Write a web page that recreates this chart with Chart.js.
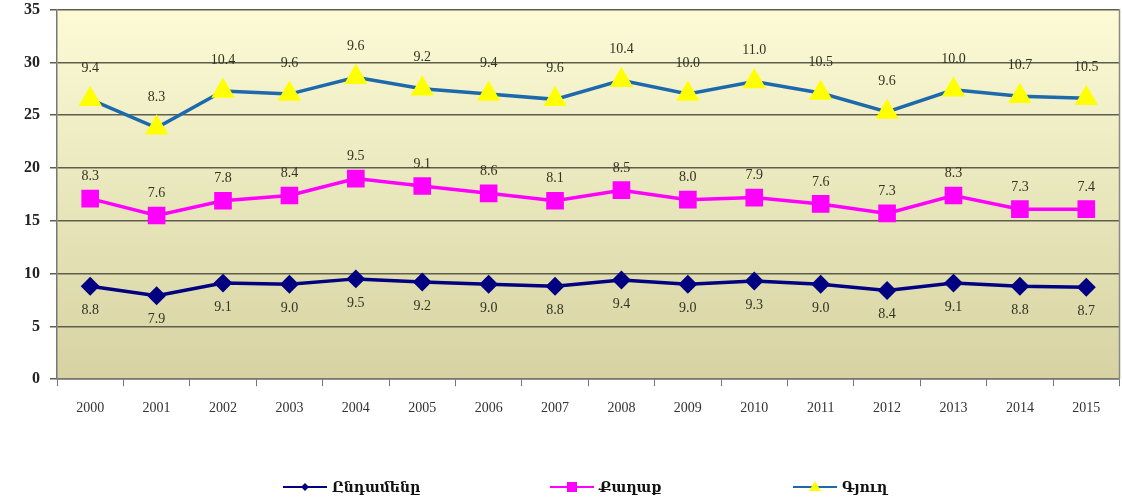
<!DOCTYPE html>
<html>
<head>
<meta charset="utf-8">
<script src="https://cdn.jsdelivr.net/npm/chart.js@4/dist/chart.umd.min.js"></script>
<style>
  body { margin: 0; background: #fff; overflow: hidden; }
  #wrap { width: 1122px; height: 499px; overflow: hidden; }
  #myChart { margin-top: -10px; display: block; }
</style>
</head>
<body>
<div id="wrap"><canvas id="myChart" width="1133" height="509"></canvas></div>
<script>
// data
const years = ['2000','2001','2002','2003','2004','2005','2006','2007','2008','2009','2010','2011','2012','2013','2014','2015'];
const totalVals = [8.8, 7.9, 9.1, 9.0, 9.5, 9.2, 9.0, 8.8, 9.4, 9.0, 9.3, 9.0, 8.4, 9.1, 8.8, 8.7];
const cityVals = [8.3, 7.6, 7.8, 8.4, 9.5, 9.1, 8.6, 8.1, 8.5, 8.0, 7.9, 7.6, 7.3, 8.3, 7.3, 7.4];
const villageVals = [9.4, 8.3, 10.4, 9.6, 9.6, 9.2, 9.4, 9.6, 10.4, 10.0, 11.0, 10.5, 9.6, 10.0, 10.7, 10.5];
const seriesNames = ['Ընդամենը', 'Քաղաք', 'Գյուղ'];
const yTicks = [0, 5, 10, 15, 20, 25, 30, 35];

// background of the plot area
const plotBg = {
    id: 'plotBg',
    beforeDraw(chart) {
        const a = chart.chartArea;
        const ctx = chart.ctx;
        const g = ctx.createLinearGradient(0, a.top, 0, a.bottom);
        g.addColorStop(0, '#fcfbd6');
        g.addColorStop(1, '#d6d2a2');
        ctx.save();
        ctx.fillStyle = g;
        ctx.fillRect(a.left, a.top, a.right - a.left, a.bottom - a.top);
        ctx.restore();
    },
    afterDatasetsDraw(chart) {
        const a = chart.chartArea;
        const ctx = chart.ctx;
        ctx.save();
        ctx.strokeStyle = '#8a8a80';
        ctx.lineWidth = 1.5;
        ctx.beginPath();
        ctx.moveTo(a.right, a.top);
        ctx.lineTo(a.right, a.bottom);
        ctx.stroke();
        ctx.restore();
    }
};

// value labels next to every point
const labelOffsets = [24, -22, -31];
const valueLabels = {
    id: 'valueLabels',
    afterDatasetsDraw(chart) {
        const ctx = chart.ctx;
        ctx.save();
        ctx.font = '14px "Liberation Serif"';
        ctx.fillStyle = '#333322';
        ctx.textAlign = 'center';
        ctx.textBaseline = 'middle';
        chart.data.datasets.forEach((ds, i) => {
            const meta = chart.getDatasetMeta(i);
            meta.data.forEach((pt, j) => {
                ctx.fillText(ds.data[j].toFixed(1), pt.x, pt.y + labelOffsets[i]);
            });
        });
        ctx.restore();
    }
};

// legend at the bottom: line + marker + name
const legendX = [283, 550, 793];
const bottomLegend = {
    id: 'bottomLegend',
    afterDraw(chart) {
        const ctx = chart.ctx;
        const y = 497;
        ctx.save();
        chart.data.datasets.forEach((ds, i) => {
            const x = legendX[i];
            ctx.strokeStyle = ds.borderColor;
            ctx.lineWidth = 2;
            ctx.beginPath();
            ctx.moveTo(x, y);
            ctx.lineTo(x + 44, y);
            ctx.stroke();
            ctx.fillStyle = ds.pointBackgroundColor;
            const cx = x + 22;
            if (ds.pointStyle === 'rectRot') {
                ctx.beginPath();
                ctx.moveTo(cx, y - 4); ctx.lineTo(cx + 4, y); ctx.lineTo(cx, y + 4); ctx.lineTo(cx - 4, y);
                ctx.closePath(); ctx.fill();
            } else if (ds.pointStyle === 'rect') {
                ctx.fillRect(cx - 5, y - 5, 10, 10);
            } else {
                ctx.beginPath();
                ctx.moveTo(cx, y - 6); ctx.lineTo(cx + 6, y + 4); ctx.lineTo(cx - 6, y + 4);
                ctx.closePath(); ctx.fill();
            }
            ctx.fillStyle = '#111';
            ctx.font = 'bold 14px "DejaVu Serif"';
            ctx.textAlign = 'left';
            ctx.textBaseline = 'middle';
            ctx.fillText(ds.label, x + 49, y + 1);
        });
        ctx.restore();
    }
};

const ctx = document.getElementById('myChart');
const myChart = new Chart(ctx, {
    type: 'line',
    data: {
        labels: years,
        datasets: [{
            label: seriesNames[0],
            data: totalVals,
            borderColor: '#000080',
            pointBackgroundColor: '#000080',
            pointBorderColor: '#000080',
            pointStyle: 'rectRot',
            pointRadius: 7,
            borderWidth: 3.5,
            tension: 0
        }, {
            label: seriesNames[1],
            data: cityVals,
            borderColor: '#ff00ff',
            pointBackgroundColor: '#ff00ff',
            pointBorderColor: '#ff00ff',
            pointStyle: 'rect',
            pointRadius: 10,
            borderWidth: 3.5,
            tension: 0
        }, {
            label: seriesNames[2],
            data: villageVals,
            borderColor: '#1c6aab',
            pointBackgroundColor: '#ffff00',
            pointBorderColor: '#ffff00',
            pointStyle: 'triangle',
            pointRadius: 10,
            borderWidth: 3.5,
            tension: 0
        }]
    },
    options: {
        responsive: false,
        animation: false,
        layout: { padding: { top: 2, right: 0, bottom: 68, left: 14 } },
        plugins: {
            legend: { display: false },
            tooltip: { enabled: false }
        },
        scales: {
            x: {
                offset: true,
                grid: { drawOnChartArea: false, offset: true, tickLength: 7, color: '#777' },
                border: { color: '#777', width: 1.5 },
                ticks: { color: '#333', font: { family: 'Liberation Serif', size: 14 }, padding: 14 }
            },
            y: {
                stacked: true,
                min: 0,
                max: 35,
                afterBuildTicks(axis) { axis.ticks = yTicks.map(v => ({ value: v })); },
                grid: { color: '#5e5e4c', lineWidth: 1.5, tickLength: 7 },
                border: { color: '#777', width: 1.5 },
                ticks: { color: '#222', font: { family: 'Liberation Serif', size: 16, weight: 'bold' }, padding: 10 }
            }
        }
    },
    plugins: [plotBg, valueLabels, bottomLegend]
});
</script>
</body>
</html>
